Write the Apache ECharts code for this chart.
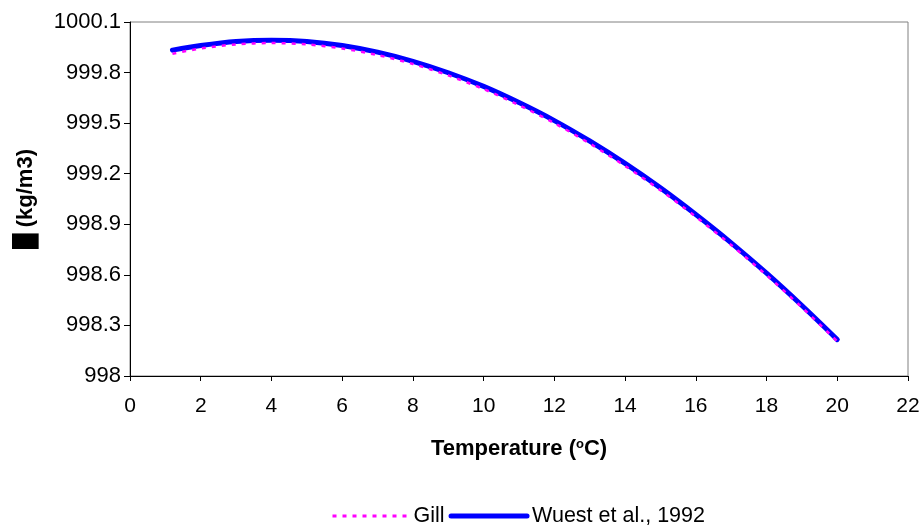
<!DOCTYPE html>
<html>
<head>
<meta charset="utf-8">
<script src="https://cdn.jsdelivr.net/npm/echarts@6/dist/echarts.min.js"></script>
<style>
html,body{margin:0;padding:0;background:#fff;}
#chart{width:924px;height:525px;}
</style>
</head>
<body>
<div id="chart"></div>
<script>
// Temperature (°C)
var temps = [1.2, 2, 3, 4, 5, 6, 7, 8, 9, 10, 11, 12, 13, 14, 15, 16, 17, 18, 19, 20];
// Gill density (kg/m3)
var gill = [999.911, 999.943, 999.967, 999.975, 999.967, 999.943, 999.904, 999.851, 999.783, 999.702,
            999.607, 999.500, 999.379, 999.246, 999.102, 998.945, 998.777, 998.598, 998.407, 998.206];
// Wuest et al., 1992 density (kg/m3)
var wuest = [999.933, 999.960, 999.984, 999.992, 999.985, 999.961, 999.921, 999.867, 999.799, 999.718,
             999.622, 999.515, 999.394, 999.261, 999.116, 998.958, 998.790, 998.610, 998.418, 998.216];
var seriesNames = ['Gill', 'Wuest et al., 1992'];
var xAxisTitle = 'Temperature ({sup|o}C)';
var yAxisTitle = '\u2588 (kg/m3)';

function pairs(xs, ys) {
  var out = [];
  for (var i = 0; i < xs.length; i++) out.push([xs[i], ys[i]]);
  return out;
}

var FONT = '"Liberation Sans", Arial, sans-serif';
var chart = echarts.init(document.getElementById('chart'), null, {renderer: 'canvas'});
chart.setOption({
  animation: false,
  backgroundColor: '#ffffff',
  textStyle: {fontFamily: FONT},
  grid: {
    left: 130, right: 16, top: 22, bottom: 149,
    show: true, borderColor: '#808080', borderWidth: 1, backgroundColor: 'transparent'
  },
  legend: {
    left: 326, top: 500,
    itemWidth: 76, itemHeight: 14, itemGap: 4,
    itemStyle: {opacity: 0},
    textStyle: {fontFamily: FONT, fontSize: 21.5, color: '#000'},
    data: [
      {name: seriesNames[0], lineStyle: {width: 3, type: [4, 6], color: '#ff00ff'}},
      {name: seriesNames[1], lineStyle: {width: 5, color: '#0000ff', cap: 'round'}}
    ]
  },
  xAxis: {
    type: 'value', min: 0, max: 22, interval: 2,
    name: xAxisTitle, nameLocation: 'middle', nameGap: 62,
    nameTextStyle: {
      fontFamily: FONT, fontSize: 22, fontWeight: 'bold', color: '#000',
      rich: {sup: {fontFamily: FONT, fontSize: 13, fontWeight: 'bold', color: '#000', verticalAlign: 'top', padding: [0, 0, 8, 0]}}
    },
    axisLine: {show: true, onZero: false, lineStyle: {color: '#000', width: 1}},
    axisTick: {show: true, inside: false, length: 5, lineStyle: {color: '#000'}},
    axisLabel: {fontFamily: FONT, fontSize: 21, color: '#000', margin: 20},
    splitLine: {show: false}
  },
  yAxis: {
    type: 'value', min: 998, max: 1000.1, interval: 0.3,
    name: yAxisTitle, nameLocation: 'middle', nameGap: 93,
    nameTextStyle: {fontFamily: FONT, fontSize: 22, fontWeight: 'bold', color: '#000'},
    axisLine: {show: true, lineStyle: {color: '#000', width: 1}},
    axisTick: {show: true, inside: false, length: 6, lineStyle: {color: '#000'}},
    axisLabel: {fontFamily: FONT, fontSize: 22, color: '#000', margin: 9,
      formatter: function (v) { return String(Math.round(v * 10) / 10); }},
    splitLine: {show: false}
  },
  series: [
    {
      name: seriesNames[1], type: 'line', data: pairs(temps, wuest),
      smooth: 0.3, showSymbol: false, symbol: 'none', z: 2,
      itemStyle: {color: '#0000ff'},
      lineStyle: {color: '#0000ff', width: 5, cap: 'round', join: 'round'}
    },
    {
      name: seriesNames[0], type: 'line', data: pairs(temps, gill),
      smooth: 0.3, showSymbol: false, symbol: 'none', z: 3,
      itemStyle: {color: '#ff00ff'},
      lineStyle: {color: '#ff00ff', width: 2.5, type: [4, 6]}
    }
  ]
});
</script>
</body>
</html>
